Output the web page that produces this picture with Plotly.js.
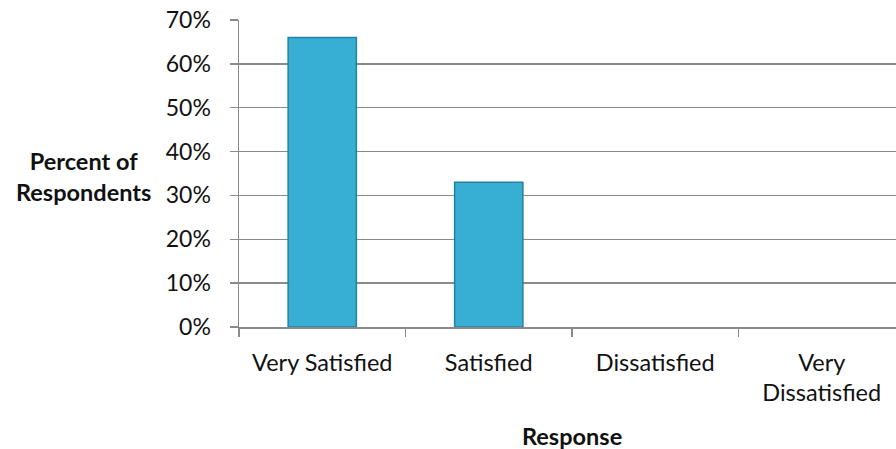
<!DOCTYPE html>
<html>
<head>
<meta charset="utf-8">
<script src="https://cdn.plot.ly/plotly-3.0.1.min.js"></script>
<style>
html,body{margin:0;padding:0;overflow:hidden;background:#fff;}
#chart{width:896px;height:449px;}
</style>
</head>
<body>
<div id="chart"></div>
<script>
const categories = ["Very Satisfied", "Satisfied", "Dissatisfied", "Very<br>Dissatisfied"];
const percentValues = [0.66, 0.33, 0, 0];
const yTickValues = [0, 0.1, 0.2, 0.3, 0.4, 0.5, 0.6, 0.7];
const yAxisTitle = "Percent of<br>Respondents";
const xAxisTitle = "Response";

const FONT = "Lato, 'Open Sans', sans-serif";
const GRID = "#8a8a8a";

const trace = {
  type: "bar",
  x: categories,
  y: percentValues,
  marker: {
    color: "#37AED3",
    line: {color: "#24819f", width: percentValues.map(v => v > 0 ? 1.5 : 0)}
  },
  hoverinfo: "none"
};

const layout = {
  width: 896,
  height: 449,
  margin: {l: 239, r: 0, t: 20, b: 122},
  paper_bgcolor: "#ffffff",
  plot_bgcolor: "#ffffff",
  font: {family: FONT, size: 23, color: "#111"},
  showlegend: false,
  bargap: 0.59,
  xaxis: {
    type: "category",
    range: [-0.5, 3.446],
    showgrid: false,
    showline: true,
    linecolor: GRID,
    linewidth: 1.5,
    ticks: "outside",
    tickson: "boundaries",
    ticklen: 8,
    tickwidth: 1.5,
    tickcolor: GRID,
    ticklabelstandoff: 14,
    tickfont: {family: FONT, size: 23.5, color: "#111"},
    zeroline: false,
    fixedrange: true
  },
  yaxis: {
    range: [0, 0.7],
    tickvals: yTickValues,
    tickformat: ".0%",
    showgrid: true,
    gridcolor: GRID,
    gridwidth: 1.5,
    showline: true,
    linecolor: GRID,
    linewidth: 1.5,
    ticks: "outside",
    ticklen: 8,
    tickwidth: 1.5,
    tickcolor: GRID,
    ticklabelstandoff: 14,
    tickfont: {family: FONT, size: 23, color: "#111"},
    zeroline: false,
    fixedrange: true
  },
  annotations: [
    {
      text: "<b>" + yAxisTitle + "</b>",
      xref: "paper", yref: "paper",
      x: -0.236, y: 0.49,
      xanchor: "center", yanchor: "middle",
      align: "center",
      showarrow: false,
      font: {family: FONT, size: 23.5, color: "#111"}
    },
    {
      text: "<b>" + xAxisTitle + "</b>",
      xref: "x", yref: "paper",
      x: 1.5, y: -0.355,
      xanchor: "center", yanchor: "middle",
      showarrow: false,
      font: {family: FONT, size: 23.5, color: "#111"}
    }
  ]
};

Plotly.newPlot("chart", [trace], layout, {displayModeBar: false, staticPlot: true});
</script>
</body>
</html>
